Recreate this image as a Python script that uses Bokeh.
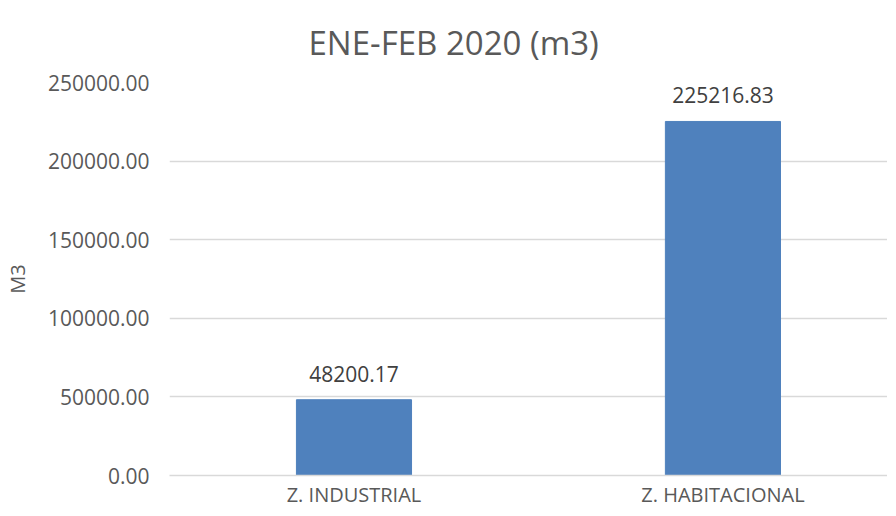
from bokeh.plotting import figure
from bokeh.models import ColumnDataSource, LabelSet, FixedTicker, NumeralTickFormatter, Range1d
from bokeh.core.properties import value
from bokeh.embed import file_html
from bokeh.resources import INLINE

categories = ["Z. INDUSTRIAL", "Z. HABITACIONAL"]
values = [48200.17, 225216.83]
y_ticks = [0, 50000, 100000, 150000, 200000, 250000]
title_text = "ENE-FEB 2020 (m3)"
y_label = "M3"

FONT = "Open Sans"
TXT = "#595959"
GRID = "#D9D9D9"

xs = list(range(len(categories)))
src = ColumnDataSource(dict(
    x=xs, top=values, cat=categories,
    lbl=[f"{v:.2f}" for v in values],
))

p = figure(frame_width=718, frame_height=393, output_backend="svg", toolbar_location=None,
           x_range=Range1d(-0.5, 1.446), y_range=Range1d(0, 250000),
           min_border_left=162, min_border_right=0, min_border_top=82,
           min_border_bottom=32, title=title_text)
p.outline_line_color = None

p.title.text_font = FONT
p.title.text_font_size = "33px"
p.title.text_font_style = "normal"
p.title.text_color = TXT
p.title.align = "left"
p.title.vertical_align = "top"
p.title.offset = 139
p.title.standoff = 32

p.vbar(x="x", top="top", width=0.312, source=src, color="#4F81BD")

labels = LabelSet(x="x", y="top", text="lbl", source=src, text_align="center",
                  text_baseline="alphabetic", y_offset=18, text_font=value(FONT),
                  text_font_size=value("21px"), text_color="#404040")
p.add_layout(labels)

p.yaxis.ticker = FixedTicker(ticks=y_ticks)
p.yaxis.formatter = NumeralTickFormatter(format="0.00")
p.yaxis.axis_line_color = None
p.yaxis.major_tick_line_color = None
p.yaxis.minor_tick_line_color = None
p.yaxis.major_tick_out = 0
p.yaxis.major_tick_in = 0
p.yaxis.major_label_standoff = 20
p.yaxis.major_label_text_font = FONT
p.yaxis.major_label_text_font_size = "21px"
p.yaxis.major_label_text_color = TXT
p.yaxis.axis_label = y_label
p.yaxis.axis_label_text_font = FONT
p.yaxis.axis_label_text_font_size = "20px"
p.yaxis.axis_label_text_font_style = "normal"
p.yaxis.axis_label_text_color = TXT
p.yaxis.axis_label_standoff = 14

p.xaxis.ticker = FixedTicker(ticks=xs)
p.xaxis.major_label_overrides = {i: c for i, c in zip(xs, categories)}
p.xaxis.axis_line_color = GRID
p.xaxis.axis_line_width = 1.5
p.xaxis.major_tick_line_color = None
p.xaxis.minor_tick_line_color = None
p.xaxis.major_tick_out = 0
p.xaxis.major_tick_in = 0
p.xaxis.major_label_standoff = 5
p.xaxis.major_label_text_font = FONT
p.xaxis.major_label_text_font_size = "20px"
p.xaxis.major_label_text_color = TXT

p.xgrid.grid_line_color = None
p.ygrid.grid_line_color = GRID
p.ygrid.grid_line_width = 1.5

open("out.html", "w").write(file_html(p, INLINE))
